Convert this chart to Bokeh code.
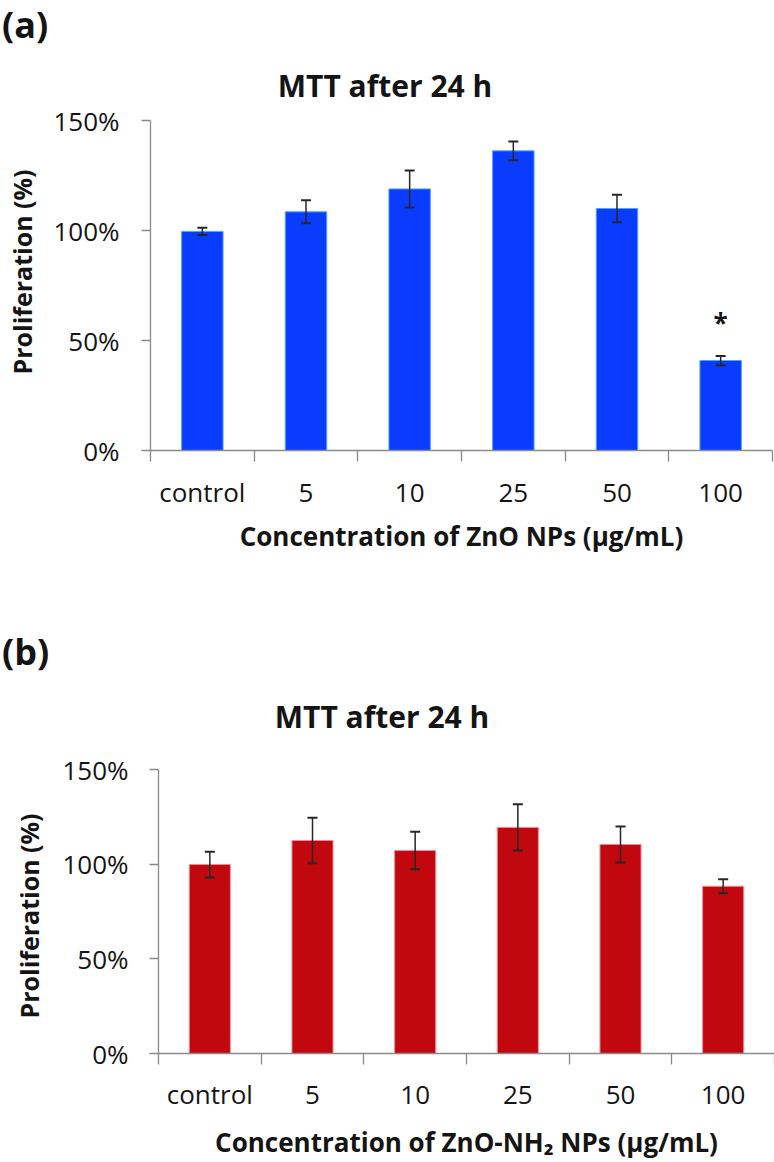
from bokeh.plotting import figure
from bokeh.models import (ColumnDataSource, Whisker, TeeHead, FixedTicker, LinearAxis,
                          Range1d, PrintfTickFormatter, Div)
from bokeh.core.properties import value
from bokeh.layouts import column, row
from bokeh.embed import file_html
from bokeh.resources import INLINE

# ---------------- data ----------------
categories = ["control", "5", "10", "25", "50", "100"]
zno_mean = [99.6, 108.5, 118.9, 136.2, 110.0, 40.9]
zno_err = [1.6, 5.2, 8.4, 4.3, 6.3, 2.1]
zno_sig = ["", "", "", "", "", "*"]
nh2_mean = [99.8, 112.5, 107.2, 119.4, 110.4, 88.3]
nh2_err = [6.8, 12.0, 9.9, 12.2, 9.5, 3.7]
nh2_sig = ["", "", "", "", "", ""]
y_ticks = [0, 50, 100, 150]
y_title = "Proliferation (%)"
chart_title = "MTT after 24 h"

FONT = "Open Sans"
TXT = "#141414"
AX = "#8a8a8a"
TOTAL_W = 774


def header_div(tag, tag_lh, height, tx, ty):
    html = ('<span style="position:absolute; left:2px; top:0px; white-space:nowrap; '
            'font-family:\'{f}\'; font-weight:bold; font-size:36px; line-height:{lh}; '
            'color:{c};">{tag}</span>'
            '<span style="position:absolute; left:{tx}px; top:{ty}px; '
            'transform:translate(-50%,-50%); white-space:nowrap; '
            'font-family:\'{f}\'; font-weight:bold; font-size:30px; '
            'color:{c};">{title}</span>').format(f=FONT, lh=tag_lh, c=TXT, tag=tag,
                                                tx=tx, ty=ty, title=chart_title)
    return Div(text=html, width=TOTAL_W, height=height,
               styles={"position": "relative", "margin": "0", "padding": "0",
                       "overflow": "visible"})


def ytitle_div(width, height, cx, cy):
    span = ('<span style="position:absolute; left:%dpx; top:%dpx; '
            'transform:translate(-50%%,-50%%) rotate(-90deg); white-space:nowrap; '
            'font-family:\'%s\'; font-weight:bold; font-size:25px; line-height:30px; '
            'color:%s;">%s</span>' % (cx, cy, FONT, TXT, y_title))
    return Div(text=span, width=width, height=height,
               styles={"position": "relative", "margin": "0", "padding": "0",
                       "overflow": "visible"})


def make_chart(xtitle, means, errs, sig, fill, edge, Wf, H, left, right, top, bottom,
               ylab_standoff, xlab_standoff, xtitle_standoff):
    n = len(categories)
    p = figure(width=Wf, height=H, output_backend="svg", toolbar_location=None,
               x_range=Range1d(0, n), y_range=Range1d(0, 150), title=None,
               min_border_left=left, min_border_right=right,
               min_border_top=top, min_border_bottom=bottom,
               x_axis_location=None, y_axis_location=None)
    p.outline_line_color = None
    p.xgrid.visible = False
    p.ygrid.visible = False
    p.background_fill_color = "white"
    p.border_fill_color = "white"

    centers = [i + 0.5 for i in range(n)]
    bounds = [i for i in range(n + 1)]

    src = ColumnDataSource(dict(
        x=centers, top=means,
        upper=[m + e for m, e in zip(means, errs)],
        lower=[m - e for m, e in zip(means, errs)],
        sig=sig,
        sig_y=[m + e + 15 for m, e in zip(means, errs)],
    ))
    p.vbar(x="x", top="top", width=0.4, bottom=0, source=src,
           fill_color=fill, line_color=edge, line_width=1)

    wh = Whisker(base="x", upper="upper", lower="lower", source=src, level="overlay",
                 line_color="#262626", line_width=1.5,
                 upper_head=TeeHead(size=10, line_color="#262626", line_width=2),
                 lower_head=TeeHead(size=10, line_color="#262626", line_width=2))
    p.add_layout(wh)

    p.text(x="x", y="sig_y", text="sig", source=src, text_align="center",
           text_baseline="middle", text_font=value(FONT), text_font_style="bold",
           text_font_size="26px", text_color=TXT)

    # x axis: labels at centers, tick marks at category boundaries
    xa = LinearAxis(ticker=FixedTicker(ticks=centers, minor_ticks=bounds))
    xa.major_label_overrides = {c: lab for c, lab in zip(centers, categories)}
    xa.major_tick_line_color = None
    xa.major_tick_out = 11
    xa.major_tick_in = 0
    xa.minor_tick_out = 11
    xa.minor_tick_in = 0
    xa.minor_tick_line_color = AX
    xa.minor_tick_line_width = 1.3
    xa.axis_line_color = AX
    xa.axis_line_width = 1.3
    xa.major_label_standoff = xlab_standoff
    xa.major_label_text_font = FONT
    xa.major_label_text_font_size = "26px"
    xa.major_label_text_color = TXT
    xa.axis_label = xtitle
    xa.axis_label_standoff = xtitle_standoff
    xa.axis_label_text_font = FONT
    xa.axis_label_text_font_style = "bold"
    xa.axis_label_text_font_size = "26px"
    xa.axis_label_text_color = TXT
    p.add_layout(xa, "below")

    ya = LinearAxis(ticker=FixedTicker(ticks=y_ticks, minor_ticks=[]),
                    formatter=PrintfTickFormatter(format="%d%%"))
    ya.major_tick_out = 9
    ya.major_tick_in = 0
    ya.major_tick_line_color = AX
    ya.major_tick_line_width = 1.3
    ya.minor_tick_line_color = None
    ya.axis_line_color = AX
    ya.axis_line_width = 1.3
    ya.major_label_standoff = ylab_standoff
    ya.major_label_text_font = FONT
    ya.major_label_text_font_size = "26px"
    ya.major_label_text_color = TXT
    p.add_layout(ya, "left")
    return p


# top panel: header 100 px, then y-title strip 44 px + figure 730 px (532 high)
p1 = make_chart("Concentration of ZnO NPs (μg/mL)",
                zno_mean, zno_err, zno_sig, "#0a3cff", "#4aa8ff",
                Wf=TOTAL_W - 44, H=532, left=106, right=2, top=20, bottom=182,
                ylab_standoff=22, xlab_standoff=12, xtitle_standoff=5)

# bottom panel: header 117 px, then y-title strip 58 px + figure 716 px (413 high)
p2 = make_chart("Concentration of ZnO-NH₂ NPs (μg/mL)",
                nh2_mean, nh2_err, nh2_sig, "#c0080e", "#f08a94",
                Wf=TOTAL_W - 58, H=413, left=100, right=0, top=20, bottom=108,
                ylab_standoff=21, xlab_standoff=11, xtitle_standoff=9)

layout = column(
    header_div("(a)", "49px", 100, 385, 86),
    row(ytitle_div(44, 532, 22, 172), p1, spacing=0),
    header_div("(b)", "40px", 117, 382, 85),
    row(ytitle_div(58, 413, 29, 167), p2, spacing=0),
    spacing=0,
)
open("out.html", "w").write(file_html(layout, INLINE))
